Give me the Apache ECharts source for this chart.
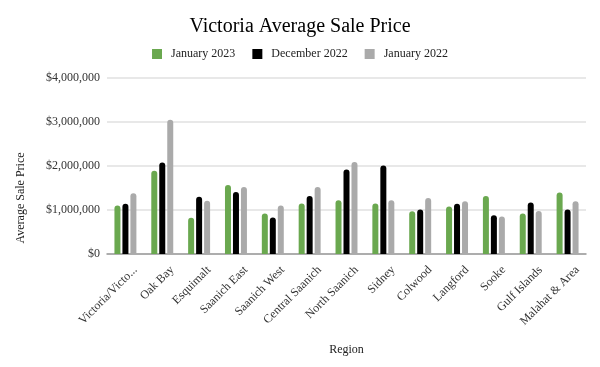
<!DOCTYPE html>
<html><head><meta charset="utf-8">
<script src="https://cdn.jsdelivr.net/npm/echarts@6/dist/echarts.min.js"></script>
<style>html,body{margin:0;padding:0;background:#fff}#c{width:600px;height:367px}</style>
</head><body><div id="c"></div>
<script>
const categories = ["Victoria/Victo...", "Oak Bay", "Esquimalt", "Saanich East", "Saanich West", "Central Saanich", "North Saanich", "Sidney", "Colwood", "Langford", "Sooke", "Gulf Islands", "Malahat & Area"];
const jan2023 = [1100000, 1890000, 825000, 1570000, 920000, 1150000, 1220000, 1150000, 970000, 1080000, 1320000, 920000, 1400000];
const dec2022 = [1140000, 2080000, 1300000, 1410000, 830000, 1320000, 1920000, 2010000, 1010000, 1140000, 880000, 1170000, 1010000];
const jan2022 = [1380000, 3050000, 1210000, 1520000, 1100000, 1520000, 2090000, 1220000, 1270000, 1200000, 855000, 980000, 1200000];
const seriesNames = ["January 2023", "December 2022", "January 2022"];
const yTicks = [0, 1000000, 2000000, 3000000, 4000000];

const font = "Liberation Serif";
const chart = echarts.init(document.getElementById('c'));
const colors = ['#6aa84f', '#000000', '#aaaaaa'];
const data = [jan2023, dec2022, jan2022];
chart.setOption({
  animation: false,
  textStyle: {fontFamily: font},
  title: {text: 'Victoria Average Sale Price', left: 'center', top: 12,
    textStyle: {fontFamily: font, fontSize: 20, fontWeight: 'normal', color: '#000'}},
  legend: {top: 43, left: 'center', itemWidth: 10, itemHeight: 10, itemGap: 17, icon: 'rect',
    textStyle: {fontFamily: font, fontSize: 12, color: '#222', padding: [0, 0, 0, 4]}, data: seriesNames},
  grid: {left: 107, right: 14, top: 78, bottom: 113},
  xAxis: {type: 'category', data: categories,
    name: 'Region', nameLocation: 'middle', nameGap: 90,
    nameTextStyle: {fontFamily: font, fontSize: 12, color: '#222'},
    axisLine: {lineStyle: {color: '#999', width: 1.5}}, axisTick: {show: false},
    axisLabel: {rotate: 45, interval: 0, fontFamily: font, fontSize: 12, color: '#333', margin: 24,
      padding: [0, -14, 0, 0]}},
  yAxis: {type: 'value', min: yTicks[0], max: yTicks[yTicks.length-1], interval: 1000000,
    name: 'Average Sale Price', nameLocation: 'middle', nameGap: 80, nameRotate: 90,
    nameTextStyle: {fontFamily: font, fontSize: 12, color: '#222', padding: [0, 64, 0, 0]},
    axisLine: {show: false}, axisTick: {show: false},
    splitLine: {lineStyle: {color: '#e0e0e0', width: 1.5}},
    axisLabel: {fontFamily: font, fontSize: 12, color: '#333', margin: 7,
      formatter: v => '$' + v.toLocaleString('en-US')}},
  series: seriesNames.map((n, i) => ({
    name: n, type: 'bar', data: data[i], barWidth: 6, barGap: '33%',
    itemStyle: {color: colors[i], borderRadius: [3, 3, 0, 0]}
  }))
});
</script></body></html>
